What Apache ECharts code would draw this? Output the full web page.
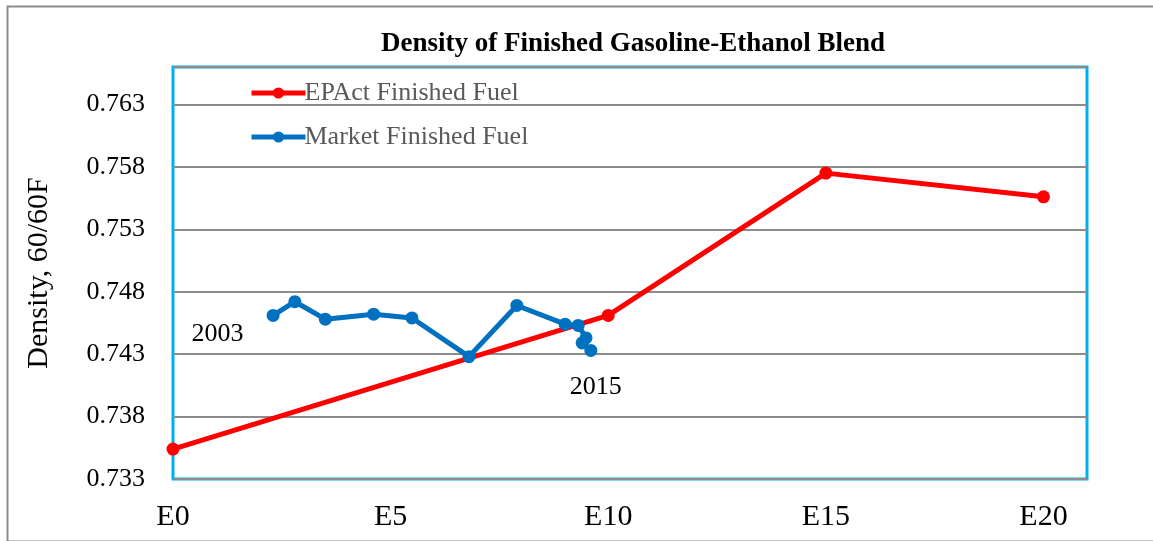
<!DOCTYPE html>
<html>
<head>
<meta charset="utf-8">
<script src="https://cdn.jsdelivr.net/npm/echarts@6/dist/echarts.min.js"></script>
<style>
  html, body { margin: 0; padding: 0; background: #fff; }
  #chart { width: 1153px; height: 541px; }
</style>
</head>
<body>
<div id="chart"></div>
<script>
// ethanol blend level (%) and density
const epactX = [0, 10, 15, 20];
const epactY = [0.7354, 0.7461, 0.7575, 0.7556];

const marketX = [2.3, 2.8, 3.5, 4.61, 5.49, 6.8, 7.9, 9.01, 9.31, 9.49, 9.4, 9.6];
const marketY = [0.7461, 0.7472, 0.7458, 0.7462, 0.7459, 0.7428, 0.7469, 0.7454, 0.7453, 0.7443, 0.7439, 0.7433];
const marketYears = ['2003', '2015'];

const serif = "'Liberation Serif', 'Times New Roman', serif";

const chart = echarts.init(document.getElementById('chart'));

// year labels on first / last market points
const marketData = marketX.map((x, i) => {
    const item = { value: [x, marketY[i]] };
    if (i === 0) {
        item.label = { show: true, formatter: marketYears[0], position: 'left', distance: 23, offset: [0, 19] };
    } else if (i === marketX.length - 1) {
        item.label = { show: true, formatter: marketYears[1], position: 'bottom', distance: 17, offset: [5, 0] };
    }
    return item;
});

const option = {
    animation: false,
    title: {
        text: 'Density of Finished Gasoline-Ethanol Blend',
        left: 628,
        top: 26,
        textAlign: 'center',
        textStyle: { fontFamily: serif, fontWeight: 'bold', fontSize: 27, color: '#000' }
    },
    graphic: [{
        type: 'rect',
        left: 5, top: 4,
        shape: { width: 1300, height: 535 },
        style: { fill: 'none', stroke: '#8c8c8c', lineWidth: 2 },
        silent: true
    }],
    legend: {
        orient: 'vertical',
        left: 244,
        top: 75,
        itemWidth: 54,
        itemHeight: 14,
        itemGap: 18,
        lineStyle: { width: 5 },
        textStyle: { fontFamily: serif, fontSize: 26, color: '#595959', padding: [0, 0, 0, -6] },
        data: ['EPAct Finished Fuel', 'Market Finished Fuel']
    },
    grid: {
        left: 173, top: 67, right: 66, bottom: 62,
        show: true,
        borderColor: '#00B0F0',
        borderWidth: 3,
        containLabel: false
    },
    xAxis: {
        type: 'value',
        min: 0, max: 21, interval: 5,
        axisLine: { show: false },
        axisTick: { show: false },
        splitLine: { show: false },
        axisLabel: {
            fontFamily: serif, fontSize: 30, color: '#000', margin: 23,
            showMaxLabel: false,
            formatter: v => 'E' + Math.round(v)
        }
    },
    yAxis: {
        type: 'value',
        min: 0.733, max: 0.766, interval: 0.005,
        name: 'Density, 60/60F',
        nameLocation: 'middle',
        nameGap: 119,
        nameTextStyle: { fontFamily: serif, fontSize: 30, color: '#000' },
        axisLine: { show: false },
        axisTick: { show: false },
        splitLine: { lineStyle: { color: '#8c8c8c', width: 2 } },
        axisLabel: {
            fontFamily: serif, fontSize: 26, color: '#000', margin: 28,
            showMaxLabel: false,
            formatter: v => v.toFixed(3)
        }
    },
    series: [
        {
            name: 'EPAct Finished Fuel',
            type: 'line',
            data: epactX.map((x, i) => [x, epactY[i]]),
            symbol: 'circle',
            symbolSize: 13,
            lineStyle: { color: '#FF0000', width: 5 },
            itemStyle: { color: '#FF0000' },
            z: 3
        },
        {
            name: 'Market Finished Fuel',
            type: 'line',
            data: marketData,
            symbol: 'circle',
            symbolSize: 13,
            lineStyle: { color: '#0070C0', width: 5 },
            itemStyle: { color: '#0070C0' },
            label: { fontFamily: serif, fontSize: 26, color: '#000' },
            z: 4
        }
    ]
};

chart.setOption(option);
window.addEventListener('resize', () => chart.resize());
</script>
</body>
</html>
